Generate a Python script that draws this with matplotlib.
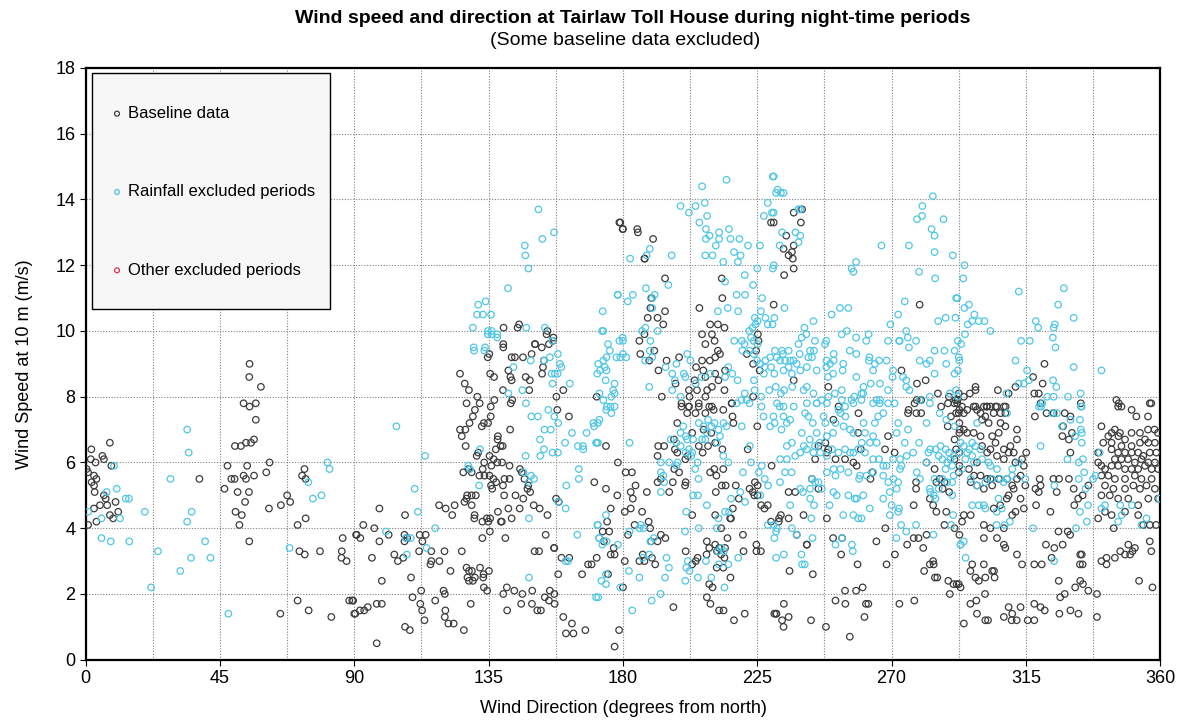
import numpy as np
import matplotlib
matplotlib.use("Agg")
import matplotlib.pyplot as plt
from matplotlib.ticker import MultipleLocator
from matplotlib.patches import Rectangle

plt.rcParams['font.family'] = ['Liberation Sans', 'DejaVu Sans']

# (direction deg, speed m/s)
baseline_0_90 = [
    (1.9, 6.4), (8.1, 6.6), (5.6, 6.2), (1.7, 6.1), (6.1, 6.1), (3.3, 6.0), (0.3, 5.8), (0.8, 5.7),
    (2.8, 5.6), (3.6, 5.5), (2.0, 5.4), (2.8, 5.3), (3.0, 5.1), (6.1, 5.0), (6.7, 4.9), (10.0, 4.8),
    (8.6, 5.9), (4.8, 4.7), (7.2, 4.7), (2.8, 4.6), (10.9, 4.5), (8.1, 4.4), (9.2, 4.3), (3.6, 4.2),
    (0.8, 4.1), (38.1, 5.5),
    (54.9, 9.0), (54.8, 8.6), (58.7, 8.3), (52.9, 7.8), (54.9, 7.7), (57.0, 7.8), (57.0, 7.3), (50.0, 6.5),
    (52.0, 6.5), (53.7, 6.6), (55.4, 6.6), (56.4, 6.7), (61.6, 6.0), (47.5, 5.9), (54.1, 5.9), (60.5, 5.7),
    (48.8, 5.5), (49.9, 5.5), (52.9, 5.6), (53.7, 5.5), (56.4, 5.6), (46.5, 5.2), (50.9, 5.1), (54.7, 5.1),
    (53.4, 4.8), (61.4, 4.6), (50.2, 4.5), (52.3, 4.4), (51.5, 4.1), (54.8, 3.6), (65.4, 4.7), (67.5, 5.0),
    (73.3, 5.8), (72.5, 5.6), (73.7, 5.5), (68.5, 4.8), (73.7, 4.3), (71.0, 4.1), (71.6, 3.3), (73.4, 3.2),
    (78.5, 3.3), (85.8, 3.3), (86.1, 3.7), (85.7, 3.1), (87.4, 3.0), (71.0, 1.8), (74.7, 1.5), (82.3, 1.3),
    (65.2, 1.4), (88.3, 1.8), (89.6, 1.8), (90.3, 1.4), (90.8, 3.8),
]

baseline_90_180 = [
    (139.9, 9.5), (150.5, 9.6), (149.4, 9.3), (142.7, 9.2), (143.8, 9.2), (146.5, 9.2), (134.7, 9.2),
    (135.2, 9.3), (154.4, 9.9), (156.5, 9.7), (153.5, 9.1), (153.2, 8.9), (152.9, 8.7), (141.6, 8.8),
    (142.3, 8.6), (142.7, 8.5), (147.4, 8.6), (148.8, 8.5), (135.5, 8.7), (136.8, 8.6), (125.4, 8.7),
    (127.0, 8.4), (128.4, 8.2), (139.8, 8.2), (148.6, 8.2), (160.0, 8.2), (131.2, 8.0), (127.6, 7.8),
    (132.0, 7.8), (136.9, 7.9), (135.7, 7.7), (142.9, 7.9), (142.4, 7.8), (157.7, 8.0), (158.0, 7.6),
    (161.9, 7.4), (130.4, 7.6), (129.7, 7.4), (128.6, 7.2), (127.2, 7.0), (125.4, 7.0), (126.0, 6.8),
    (127.3, 6.5), (132.7, 7.1), (133.4, 7.2), (135.7, 7.4), (134.8, 7.2), (142.2, 7.0), (138.1, 6.8),
    (138.0, 6.7), (139.0, 6.5), (139.7, 6.5), (137.4, 6.4), (131.0, 6.2), (131.5, 6.3), (135.3, 6.2),
    (136.7, 6.1), (137.9, 6.0), (139.5, 6.0), (133.5, 6.0), (133.0, 5.8), (126.5, 5.7), (128.2, 5.8),
    (129.3, 5.7), (135.9, 5.9), (142.0, 5.9), (145.5, 5.8), (146.1, 5.7), (131.9, 5.6), (133.6, 5.6),
    (135.3, 5.6), (136.6, 5.5), (140.3, 5.5), (142.0, 5.5), (135.8, 5.3), (137.5, 5.4), (139.8, 5.3),
    (136.2, 5.2), (147.0, 5.5), (148.3, 5.3), (148.9, 5.1), (148.0, 5.2), (127.8, 5.0), (127.6, 4.9),
    (129.3, 5.0), (130.7, 5.0), (126.9, 4.8), (129.3, 4.7), (118.4, 4.7), (120.6, 4.6), (123.6, 4.7),
    (122.8, 4.4), (140.2, 5.0), (144.0, 5.0), (146.6, 4.9), (141.6, 4.6), (145.4, 4.6), (138.1, 4.5),
    (150.1, 4.7), (152.1, 4.6), (154.7, 4.4), (157.6, 4.9), (158.5, 4.8), (98.4, 4.6), (107.0, 4.4),
    (130.3, 4.4), (130.2, 4.3), (132.9, 4.2), (134.4, 4.3), (135.5, 4.3), (134.9, 4.2), (139.1, 4.2),
    (139.4, 4.2), (142.7, 4.3), (93.0, 4.1), (96.7, 4.0), (90.6, 3.8), (92.0, 3.7), (101.5, 3.8),
    (98.4, 3.6), (106.8, 3.8), (107.7, 3.7), (111.9, 3.8), (113.9, 3.8), (112.8, 3.6), (111.7, 3.3),
    (106.8, 3.6), (132.9, 3.7), (135.4, 3.9), (140.6, 3.7), (154.1, 3.8), (95.9, 3.1), (103.4, 3.2),
    (104.6, 3.0), (106.4, 3.1), (115.8, 3.3), (115.8, 3.0), (118.5, 3.0), (120.2, 3.3), (115.5, 2.9),
    (126.0, 3.3), (122.2, 2.7), (109.0, 2.5), (99.2, 2.4), (127.6, 2.8), (128.4, 2.7), (129.4, 2.7),
    (127.9, 2.5), (130.4, 2.5), (128.4, 2.4), (129.7, 2.4), (132.1, 2.8), (133.2, 2.5), (135.1, 2.7),
    (133.3, 2.6), (150.4, 3.3), (151.9, 3.3), (156.9, 3.4), (157.0, 3.4), (159.4, 3.1), (162.0, 3.1),
    (168.3, 2.9), (166.3, 2.6), (158.3, 2.6), (112.4, 2.1), (109.5, 1.9), (117.1, 1.8), (119.9, 2.1),
    (120.3, 2.0), (133.4, 2.2), (134.5, 2.1), (139.9, 2.0), (141.1, 2.2), (143.6, 2.1), (146.3, 2.0),
    (149.6, 2.1), (145.9, 1.7), (149.5, 1.7), (151.3, 1.5), (152.5, 1.5), (153.8, 1.9), (155.2, 1.8),
    (155.5, 2.1), (157.0, 2.0), (157.1, 1.7), (160.0, 1.3), (162.9, 1.1), (160.9, 0.8), (163.4, 0.8),
    (167.4, 0.9), (89.3, 1.8), (90.0, 1.4), (91.9, 1.5), (93.3, 1.5), (94.5, 1.6), (97.5, 1.7),
    (99.2, 1.7), (112.1, 1.7), (112.7, 1.5), (113.5, 1.2), (107.0, 1.0), (108.6, 0.9), (120.5, 1.5),
    (120.3, 1.3), (121.5, 1.1), (123.3, 1.1), (126.7, 0.9), (129.0, 1.7), (141.2, 1.5), (97.5, 0.5),
    (178.8, 13.3), (179.9, 13.1), (140.0, 10.1), (145.2, 10.2), (144.7, 10.1), (154.7, 10.0),
    (156.7, 9.8), (150.6, 9.6), (152.8, 9.5), (139.9, 9.6), (155.2, 9.6), (179.1, 13.3), (171.2, 8.0),
    (174.3, 6.5), (174.3, 5.2), (170.4, 5.4), (178.1, 5.0), (175.9, 4.6), (174.7, 4.2), (173.2, 3.9),
    (175.4, 3.9), (173.6, 3.6), (176.9, 3.4), (177.2, 3.2), (175.9, 3.2), (171.2, 3.1), (169.5, 2.9),
    (175.0, 2.6), (178.3, 6.0), (178.7, 0.9), (177.2, 0.4),
]

baseline_180_270 = [
    (180.0, 13.1), (185.0, 13.0), (190.1, 12.8), (187.2, 12.2), (184.8, 13.1), (187.3, 12.2),
    (185.5, 9.7), (229.6, 13.3), (194.1, 11.6), (213.1, 11.6), (213.3, 11.0), (189.5, 11.0),
    (189.2, 10.7), (194.1, 10.6), (205.6, 10.7), (230.5, 10.8), (188.3, 10.4), (191.6, 10.4),
    (193.5, 10.2), (187.2, 9.9), (185.8, 9.3), (190.5, 9.4), (188.8, 9.1), (194.6, 9.1), (191.9, 8.8),
    (198.8, 9.2), (206.5, 9.1), (209.2, 10.2), (211.8, 10.2), (214.0, 10.1), (206.5, 9.9), (209.8, 9.9),
    (207.6, 9.6), (210.7, 9.7), (211.8, 9.4), (210.9, 9.2), (212.5, 9.3), (209.1, 9.1), (214.2, 8.8),
    (206.9, 8.8), (204.5, 8.9), (204.0, 8.5), (207.6, 8.6), (210.9, 8.7), (212.0, 8.5), (214.0, 8.2),
    (209.8, 8.3), (208.2, 8.2), (202.1, 8.2), (202.3, 8.0), (204.8, 8.2), (197.6, 8.4), (193.0, 8.0),
    (199.6, 7.7), (202.1, 7.7), (205.4, 7.8), (207.6, 8.0), (209.8, 7.7), (225.2, 9.9), (225.4, 9.7),
    (224.6, 9.4), (223.6, 9.0), (225.8, 8.8), (221.5, 9.3), (223.6, 8.0), (216.4, 7.8),
    (199.6, 7.8), (201.5, 7.5), (202.1, 7.7), (205.4, 7.7), (204.3, 7.5), (207.6, 7.5), (208.9, 7.7),
    (210.4, 7.6), (213.6, 7.6), (216.7, 7.4), (217.0, 7.2), (216.5, 7.8), (198.2, 7.2), (207.0, 7.0),
    (209.6, 6.9), (210.9, 6.6), (213.3, 6.4), (208.5, 6.5), (203.2, 6.9), (205.4, 6.5), (197.1, 6.7),
    (191.8, 6.5), (193.8, 6.5), (191.6, 6.2), (197.4, 6.4), (198.2, 6.3), (200.9, 6.1), (201.7, 6.2),
    (206.7, 6.3), (209.2, 5.7), (210.6, 5.8), (211.3, 5.6), (213.6, 5.8), (213.1, 5.3), (211.1, 5.1),
    (214.4, 5.3), (217.8, 5.3), (221.8, 6.4), (225.0, 7.1), (229.8, 5.9), (222.4, 5.2), (224.0, 5.0),
    (223.5, 5.1), (225.1, 5.3), (218.8, 4.9), (226.3, 4.7), (228.5, 4.7), (232.9, 4.4), (216.8, 4.6),
    (215.9, 4.3), (216.2, 4.3), (210.9, 4.4), (212.9, 4.0), (208.1, 3.6), (208.9, 3.4), (210.9, 3.5),
    (211.5, 3.3), (212.2, 3.4), (212.9, 3.2), (214.0, 3.1), (214.2, 3.4), (215.0, 3.7), (213.6, 2.8),
    (211.4, 2.8), (208.0, 3.2), (205.0, 3.1), (204.4, 3.0), (203.2, 2.9), (201.0, 3.3), (208.9, 2.3),
    (210.0, 2.2), (208.1, 1.9), (209.3, 1.7), (216.0, 2.5), (220.2, 3.8), (220.4, 3.3), (224.7, 3.5),
    (224.7, 3.3), (226.2, 3.3), (212.2, 1.5), (213.7, 1.5), (217.2, 1.2), (220.8, 1.4), (231.3, 1.4),
    (196.9, 1.6), (180.9, 5.7), (183.0, 5.7), (182.6, 5.1), (184.2, 5.3), (188.0, 5.1), (183.3, 4.9),
    (180.6, 4.5), (182.6, 4.6), (186.4, 4.5), (183.9, 4.1), (181.7, 3.8), (188.6, 4.2), (189.1, 4.0),
    (192.7, 3.8), (194.2, 3.7), (191.6, 3.6), (189.4, 3.6), (186.6, 3.2), (185.5, 3.0), (187.2, 3.0),
    (189.7, 3.1), (190.8, 2.9), (180.6, 3.0), (180.0, 2.2), (232.3, 4.3), (227.4, 4.6), (229.6, 4.2),
    (230.7, 1.4), (201.0, 5.4), (203.2, 4.4), (191.6, 5.4), (192.7, 5.5), (195.5, 5.1), (196.7, 5.4),
    (197.2, 5.8), (198.8, 5.7), (200.8, 5.3), (224.2, 5.4), (225.1, 5.0),
    (237.2, 13.6), (240.0, 13.7), (239.6, 13.3), (234.7, 12.9), (237.2, 12.6), (233.8, 12.5),
    (235.5, 12.3), (236.9, 12.2), (236.6, 12.4), (234.0, 11.7), (237.2, 11.9), (230.5, 13.3),
    (237.2, 8.5), (248.8, 8.3),
    (235.5, 5.1), (232.2, 4.2), (235.5, 4.3), (240.5, 4.4), (245.5, 5.2), (248.3, 4.3), (243.3, 5.5),
    (244.4, 6.1), (245.5, 6.5), (248.3, 6.3), (251.2, 6.1), (254.4, 6.1), (257.2, 6.0), (258.3, 5.9),
    (259.7, 6.4), (258.8, 6.9), (263.5, 5.7), (262.9, 5.5), (268.8, 6.8), (268.3, 2.9), (267.9, 4.0),
    (264.9, 3.6), (258.6, 2.9), (253.1, 3.2), (250.4, 3.7), (253.4, 3.7), (241.6, 3.5), (241.6, 3.5),
    (238.2, 3.8), (235.8, 2.7), (243.6, 2.6), (254.4, 2.1), (258.1, 2.1), (260.3, 2.2), (251.2, 1.8),
    (254.5, 1.7), (261.4, 1.7), (262.2, 1.7), (260.9, 1.3), (248.0, 1.0), (256.0, 0.7), (233.9, 1.7),
    (231.4, 1.4), (233.3, 1.2), (235.5, 1.3), (233.8, 1.0), (243.0, 1.2), (237.7, 5.1), (247.8, 6.6),
    (248.8, 6.4), (250.5, 7.3), (252.2, 7.7), (258.9, 7.5), (267.8, 6.4),
]

baseline_270_360 = [
    (279.4, 10.8), (273.3, 8.8), (278.5, 8.4), (281.4, 8.5), (285.5, 8.1), (289.2, 8.0), (291.4, 7.9),
    (292.5, 8.1), (278.4, 7.9), (271.0, 6.3), (275.5, 7.5), (278.3, 7.5), (279.9, 7.5), (277.7, 7.8),
    (279.9, 7.9), (286.6, 7.7), (288.9, 7.8), (291.1, 7.8), (292.7, 7.6), (291.6, 7.5), (289.9, 7.4),
    (292.7, 7.2), (288.8, 7.1), (291.1, 6.7), (292.7, 6.9), (291.6, 6.4), (292.7, 6.3), (291.1, 6.1),
    (292.7, 5.9), (281.7, 6.0), (284.4, 5.8), (285.0, 5.4), (286.1, 5.5), (287.7, 5.4), (287.1, 5.2),
    (289.3, 5.1), (282.8, 4.9), (283.9, 4.7), (285.0, 4.5), (288.3, 4.5), (287.7, 4.1), (291.1, 4.0),
    (292.7, 3.8), (281.7, 3.8), (279.0, 3.7), (277.4, 3.7), (275.2, 3.5), (280.6, 3.4), (282.8, 2.9),
    (283.9, 3.0), (284.1, 2.9), (280.9, 2.7), (284.5, 2.5), (285.3, 2.5), (289.0, 2.4), (290.7, 2.3),
    (291.8, 2.3), (289.5, 2.0), (278.2, 5.2), (277.4, 4.7), (278.2, 5.4), (271.1, 3.2), (272.6, 1.7),
    (277.6, 1.8), (275.7, 7.6), (292.1, 7.9),
    (321.2, 9.0), (317.4, 8.6), (298.1, 8.3), (298.1, 8.2), (305.6, 8.2), (309.2, 8.1), (311.5, 8.3),
    (319.3, 8.1), (317.8, 8.1), (320.6, 8.4), (296.2, 8.1), (294.2, 8.0), (345.3, 7.9), (346.1, 7.8),
    (356.5, 7.8), (319.9, 7.8), (333.4, 7.8), (301.8, 7.7), (304.8, 7.7), (308.2, 7.7), (298.1, 7.7),
    (292.0, 7.8), (293.6, 7.7), (294.2, 7.5), (292.5, 7.5), (295.3, 7.6), (297.5, 7.7), (298.6, 7.6),
    (299.8, 7.5), (300.9, 7.7), (302.0, 7.7), (303.1, 7.7), (305.3, 7.7), (307.6, 7.7), (301.4, 7.4),
    (304.2, 7.5), (306.5, 7.5), (308.1, 7.5), (300.3, 7.3), (302.5, 7.2), (306.5, 7.2), (308.1, 7.1),
    (312.0, 7.0), (292.8, 7.0), (294.2, 7.0), (295.3, 6.9), (297.5, 6.9), (299.8, 6.8), (303.7, 6.8),
    (305.9, 6.9), (304.8, 6.6), (312.0, 6.7), (309.8, 6.5), (307.6, 6.4), (309.2, 6.3), (310.9, 6.3),
    (315.1, 6.3), (303.1, 6.4), (300.3, 6.5), (302.0, 6.3), (305.3, 6.2), (307.6, 6.1), (311.5, 6.0),
    (313.7, 6.1), (314.3, 5.9), (298.6, 6.0), (292.5, 5.7), (295.9, 5.8), (297.6, 5.6), (299.8, 5.6),
    (302.0, 5.5), (303.1, 5.5), (305.9, 5.5), (308.7, 5.5), (310.4, 5.3), (312.0, 5.5), (313.2, 5.6),
    (296.5, 5.4), (298.6, 5.3), (300.9, 5.2), (303.7, 5.3), (309.2, 5.0), (310.9, 5.2), (313.2, 4.9),
    (314.8, 5.3), (308.6, 4.9), (306.4, 4.7), (304.2, 4.6), (310.4, 4.4), (311.5, 4.5), (314.3, 4.6),
    (294.2, 4.4), (296.5, 4.4), (293.6, 4.2), (300.9, 4.1), (303.1, 4.0), (307.6, 4.0), (300.9, 3.7),
    (305.3, 3.7), (307.6, 3.5), (308.1, 3.4), (312.0, 3.2), (313.7, 2.9), (304.3, 2.7), (303.7, 2.7),
    (300.9, 2.9), (298.1, 2.5), (299.2, 2.4), (301.4, 2.5), (304.5, 2.5), (297.0, 2.9), (296.4, 2.7),
    (292.5, 2.3), (293.1, 2.2), (301.3, 2.0), (296.4, 1.7), (298.4, 1.8), (298.6, 1.4), (301.4, 1.2),
    (302.3, 1.2), (294.2, 1.1), (307.6, 1.3), (309.2, 1.6), (310.4, 1.4), (310.2, 1.2), (311.9, 1.2),
    (313.2, 1.6), (315.6, 1.2), (317.8, 1.2), (317.8, 1.7), (319.9, 1.6), (321.3, 1.5), (326.2, 1.4),
    (329.9, 1.5), (332.6, 1.4), (338.8, 1.3), (318.0, 7.4), (321.9, 7.5), (328.0, 7.5), (329.9, 7.4),
    (327.2, 6.8), (329.4, 6.7), (329.9, 6.3), (330.4, 6.9), (327.4, 7.1), (324.3, 7.5), (319.6, 5.5),
    (319.9, 5.3), (318.2, 5.2), (319.3, 5.1), (324.2, 5.5), (326.1, 5.5), (325.3, 5.1), (329.4, 5.5),
    (331.0, 5.2), (332.5, 4.9), (331.2, 4.7), (334.0, 5.0), (335.9, 5.3), (323.2, 4.5), (318.4, 4.7),
    (325.9, 3.9), (329.0, 3.9), (329.8, 3.8), (321.7, 3.5), (324.5, 3.4), (327.3, 3.5), (333.2, 3.2),
    (333.7, 3.2), (333.1, 2.9), (334.0, 2.9), (323.6, 3.1), (320.3, 2.9), (317.8, 2.9), (326.0, 2.4),
    (331.5, 2.2), (333.2, 2.4), (334.1, 2.3), (335.9, 2.1), (328.0, 2.0), (326.5, 1.9), (338.8, 2.0),
    (339.2, 6.3), (339.2, 6.0), (340.3, 5.9), (340.3, 7.1), (343.7, 6.9), (344.8, 7.0), (346.5, 6.9),
    (345.9, 7.7), (347.0, 7.7), (350.4, 7.6), (352.0, 7.4), (355.9, 7.4), (357.0, 7.8), (355.9, 7.0),
    (358.1, 7.0), (359.2, 6.9), (342.6, 6.8), (346.0, 6.8), (348.2, 6.7), (350.4, 6.9), (353.2, 6.9),
    (354.9, 6.7), (340.9, 6.6), (343.7, 6.6), (347.0, 6.5), (350.4, 6.5), (353.2, 6.6), (356.0, 6.6),
    (358.2, 6.6), (343.7, 6.4), (345.9, 6.3), (348.2, 6.3), (350.4, 6.3), (352.6, 6.3), (354.3, 6.2),
    (356.5, 6.3), (358.7, 6.3), (344.8, 6.1), (347.0, 6.1), (349.2, 6.1), (351.5, 6.0), (353.7, 6.1),
    (356.0, 6.0), (358.2, 6.0), (341.5, 5.8), (343.7, 5.9), (345.9, 5.9), (348.2, 5.8), (350.4, 5.8),
    (352.6, 5.8), (354.9, 5.9), (357.1, 5.8), (359.3, 5.8), (340.3, 5.6), (342.6, 5.6), (344.8, 5.5),
    (348.2, 5.5), (351.5, 5.6), (353.7, 5.5), (357.1, 5.5), (341.5, 5.3), (344.3, 5.2), (348.2, 5.2),
    (351.0, 5.3), (353.2, 5.2), (355.4, 5.3), (358.2, 5.2), (340.3, 5.0), (343.1, 5.0), (345.9, 4.9),
    (349.3, 4.9), (352.6, 4.7), (356.0, 4.9), (359.3, 4.9), (339.2, 4.3), (341.5, 4.5), (343.7, 4.4),
    (348.2, 4.5), (352.6, 4.4), (356.5, 4.1), (358.6, 4.1), (354.3, 4.1), (356.5, 3.6), (357.0, 3.3),
    (349.3, 3.5), (346.6, 3.3), (348.2, 3.2), (349.9, 3.2), (350.7, 3.3), (351.5, 3.4), (344.4, 4.0),
    (344.8, 3.1), (340.3, 3.0), (342.0, 2.9), (342.0, 3.1), (352.9, 2.4), (357.4, 2.2),
]

rainfall_0_90 = [
    (9.5, 5.9), (7.0, 5.1), (10.4, 5.2), (13.4, 4.9), (14.5, 4.9), (0.8, 4.5), (5.3, 4.3), (11.5, 4.3),
    (19.8, 4.5), (5.3, 3.7), (8.4, 3.6), (14.6, 3.6), (21.9, 2.2), (34.0, 7.0), (34.5, 6.3), (28.4, 5.5),
    (35.5, 4.5), (34.0, 4.2), (24.2, 3.3), (40.0, 3.6), (41.8, 3.1), (35.3, 3.1), (31.7, 2.7), (47.8, 1.4),
    (81.0, 6.0), (81.7, 5.8), (74.6, 5.4), (76.1, 4.9), (79.0, 5.0), (68.3, 3.4),
]

rainfall_90_180 = [
    (134.7, 9.9), (136.0, 9.9), (137.9, 9.8), (130.1, 9.4), (133.6, 9.4), (143.3, 8.9), (141.6, 8.1),
    (147.5, 7.8), (146.3, 8.2), (149.1, 9.1), (153.5, 9.1), (155.5, 9.2), (158.2, 9.3), (158.9, 9.0),
    (159.4, 8.9), (156.1, 8.7), (157.2, 8.7), (158.1, 8.7), (156.4, 8.4), (162.2, 8.4), (155.0, 7.6),
    (157.0, 7.4), (158.3, 7.2), (149.3, 7.4), (151.5, 7.4), (153.7, 7.0), (155.8, 7.0), (152.2, 6.7),
    (153.5, 6.4), (152.3, 6.2), (156.4, 6.3), (158.2, 6.3), (160.6, 6.6), (162.9, 6.9), (164.9, 6.5),
    (166.6, 6.5), (166.7, 6.4), (167.8, 6.9), (171.6, 6.6), (171.6, 7.2), (170.3, 7.1), (165.2, 5.8),
    (165.2, 5.5), (161.0, 5.3), (158.3, 4.8), (160.8, 4.6), (148.5, 4.3), (147.4, 6.2), (146.7, 5.7),
    (149.2, 5.6), (150.2, 5.5), (148.5, 5.4), (128.2, 5.9), (128.7, 5.8), (132.1, 6.4), (131.8, 5.3),
    (104.1, 7.1), (113.7, 6.2), (110.2, 5.2), (111.3, 4.5), (117.1, 4.0), (100.6, 3.9), (107.3, 3.7),
    (108.9, 3.7), (114.2, 3.4), (107.6, 3.2), (148.5, 2.5), (161.6, 3.0), (160.8, 3.0), (164.7, 3.8),
    (171.6, 4.1), (171.0, 1.9), (172.1, 3.7),
    (151.7, 13.7), (156.9, 13.0), (153.0, 12.8), (147.1, 12.6), (147.3, 12.3), (148.3, 11.9),
    (141.5, 11.3), (131.5, 10.8), (134.0, 10.9), (131.1, 10.5), (133.1, 10.5), (135.8, 10.5),
    (129.7, 10.1), (134.8, 10.0), (136.0, 10.0), (137.9, 9.9), (147.6, 10.1), (153.8, 10.1),
    (156.4, 9.7), (173.2, 10.6), (173.0, 10.0), (178.2, 11.1), (178.8, 9.7), (179.9, 9.8),
    (130.0, 9.5), (133.8, 9.5), (178.3, 11.1), (173.4, 10.0), (175.0, 9.6), (175.6, 9.4), (174.5, 9.2),
    (173.4, 9.1), (179.1, 9.2), (177.8, 9.2), (171.7, 9.0), (173.9, 8.9), (171.4, 8.7), (172.3, 8.8),
    (174.5, 8.8), (174.2, 8.5), (177.2, 8.4), (176.7, 8.2), (177.2, 8.1), (172.1, 8.1), (173.4, 7.9),
    (175.8, 7.7), (176.1, 8.0), (174.6, 7.7), (177.2, 7.7), (176.1, 7.5), (174.4, 7.6), (170.1, 7.2),
    (172.1, 7.3), (171.2, 6.6), (171.0, 6.6), (174.3, 2.6), (172.8, 2.4), (174.3, 2.3), (179.1, 2.2),
    (171.7, 1.9), (171.4, 4.1), (174.3, 4.4), (172.0, 3.7), (173.1, 3.5), (174.5, 3.6), (178.3, 3.5),
]

rainfall_180_270 = [
    (214.7, 14.6), (230.2, 14.7), (206.5, 14.4), (231.3, 14.2), (228.5, 13.9), (199.3, 13.8),
    (204.3, 13.8), (207.4, 13.9), (202.1, 13.6), (205.6, 13.3), (208.2, 13.5), (207.8, 13.1),
    (212.2, 13.0), (215.5, 13.1), (212.2, 12.8), (209.0, 12.9), (207.8, 12.8), (216.0, 12.8),
    (219.0, 12.8), (217.2, 12.4), (219.4, 12.3), (218.5, 12.1), (211.1, 12.6), (210.0, 12.3),
    (207.6, 12.3), (213.6, 12.1), (221.9, 12.6), (225.9, 12.6), (227.2, 13.5), (229.9, 13.6),
    (196.3, 12.3), (182.4, 12.2), (187.9, 12.3), (189.0, 12.5), (230.2, 11.9), (225.0, 11.9),
    (220.8, 11.7), (223.6, 11.4), (214.2, 11.5), (195.2, 11.4), (187.7, 11.3), (183.3, 11.1),
    (181.6, 10.9), (190.6, 11.1), (189.8, 11.0), (218.1, 11.1), (220.9, 11.1), (226.6, 11.0),
    (215.1, 10.7), (211.8, 10.6), (218.6, 10.6), (189.8, 10.7), (187.5, 10.1), (186.4, 10.0),
    (189.2, 9.7), (191.6, 10.0), (180.0, 9.7), (189.8, 9.2), (189.0, 9.4), (187.4, 9.1), (180.0, 9.3),
    (181.1, 9.2), (188.8, 8.3), (197.4, 8.5), (197.9, 9.0), (201.5, 9.3), (202.6, 9.1), (194.3, 8.9),
    (196.5, 8.7), (200.4, 8.7), (200.9, 8.6), (196.5, 8.2), (199.3, 8.0), (204.3, 8.4), (206.3, 8.6),
    (209.2, 8.7), (214.2, 8.6), (215.3, 8.9), (216.6, 8.7), (217.3, 9.7), (219.8, 9.7), (220.0, 9.4),
    (218.4, 8.5), (220.7, 9.6), (222.9, 9.8), (222.3, 10.0), (223.4, 10.1), (224.4, 10.2),
    (225.1, 10.3), (224.2, 10.4), (226.2, 10.6), (227.7, 10.4), (228.5, 10.2), (230.1, 10.2),
    (230.7, 10.4), (223.8, 9.7), (225.1, 9.6), (222.5, 9.4), (223.8, 9.3), (224.9, 9.1), (226.0, 9.0),
    (227.7, 9.1), (229.3, 9.2), (230.9, 9.4), (227.4, 8.9), (229.6, 8.9), (230.7, 8.7), (223.9, 8.5),
    (227.2, 8.7), (224.1, 8.2), (229.0, 8.2), (226.3, 8.0), (220.8, 8.1), (221.4, 7.9), (219.7, 7.9),
    (218.1, 7.8), (196.0, 6.7), (197.9, 6.6), (199.3, 6.9), (200.2, 7.1), (201.0, 6.8), (199.3, 6.5),
    (201.5, 6.7), (203.5, 6.7), (202.1, 6.4), (201.0, 6.3), (203.2, 6.3), (202.9, 6.2), (205.4, 7.2),
    (207.0, 7.1), (208.5, 7.3), (209.6, 7.1), (208.1, 6.9), (207.6, 6.7), (206.5, 6.7), (210.7, 7.2),
    (212.0, 7.0), (213.7, 7.2), (214.7, 7.1), (212.5, 6.8), (211.5, 6.6), (213.6, 6.2), (215.3, 6.0),
    (205.0, 6.0), (204.2, 5.8), (205.3, 5.5), (197.9, 5.9), (195.5, 6.0), (193.5, 5.6), (192.7, 5.1),
    (203.5, 5.0), (205.1, 5.0), (208.1, 4.7), (201.2, 4.5), (205.4, 4.0), (216.2, 4.9), (214.2, 4.5),
    (215.5, 4.5), (212.0, 4.3), (211.4, 4.0), (220.2, 5.7), (222.9, 6.0), (225.5, 5.7), (226.5, 5.9),
    (227.5, 5.5), (228.6, 5.3), (226.0, 5.0), (219.3, 5.1), (220.9, 4.8), (222.5, 6.5), (227.1, 7.4),
    (229.3, 7.1), (230.4, 7.4), (219.8, 7.1), (222.4, 7.8), (226.4, 7.7), (232.5, 7.7), (228.5, 4.1),
    (231.3, 3.9), (230.7, 3.7), (218.6, 3.1), (215.3, 2.9), (212.9, 3.4), (211.8, 3.3), (213.8, 3.3),
    (212.1, 2.9), (209.6, 2.5), (214.0, 2.2), (207.8, 3.0), (201.7, 3.0), (201.2, 2.8), (202.3, 2.7),
    (200.9, 2.4), (205.1, 2.5), (200.8, 3.9), (194.6, 3.1), (195.4, 2.8), (194.1, 2.5), (185.5, 2.5),
    (182.0, 2.7), (192.6, 2.0), (189.6, 1.8), (183.1, 1.5), (186.0, 4.1), (186.6, 3.1), (188.8, 3.2),
    (189.2, 3.6), (190.3, 3.7), (182.2, 3.9), (185.5, 4.0), (186.9, 4.0), (192.7, 5.7), (193.8, 5.4),
    (198.3, 6.0), (192.7, 6.0), (182.2, 6.6), (231.3, 3.1),
    (230.5, 14.7), (231.8, 14.3), (232.9, 14.2), (233.8, 14.2), (238.8, 13.7), (239.4, 13.7),
    (230.5, 13.6), (233.3, 13.0), (237.8, 13.0), (239.4, 12.9), (232.5, 12.6), (238.8, 12.7),
    (230.5, 12.0), (234.1, 10.7), (243.8, 10.3), (249.9, 10.5), (252.7, 10.7), (255.5, 10.7),
    (256.6, 11.9), (258.1, 12.1), (257.2, 11.8), (266.6, 12.6), (272.2, 10.5), (269.6, 10.2),
    (268.8, 9.7), (240.8, 10.1), (241.4, 9.9), (239.9, 9.8), (244.3, 9.7), (244.0, 9.4), (248.1, 9.7),
    (247.7, 9.6), (242.7, 9.4), (242.1, 9.2), (243.3, 9.2), (238.8, 9.6), (239.2, 9.3), (235.5, 9.4),
    (233.3, 9.4), (233.6, 9.3), (231.5, 9.2), (232.6, 9.1), (234.3, 9.1), (236.0, 9.1), (237.1, 9.1),
    (238.2, 9.0), (235.5, 8.9), (233.8, 8.8), (236.6, 8.7), (239.4, 8.8), (241.6, 8.9), (244.9, 8.8),
    (248.2, 9.1), (250.6, 9.3), (250.6, 9.1), (249.4, 9.0), (248.1, 8.9), (253.3, 9.9), (255.0, 10.0),
    (258.1, 9.8), (262.3, 9.9), (261.5, 9.7), (256.0, 9.4), (258.2, 9.3), (253.8, 9.0), (253.6, 8.8),
    (250.4, 8.7), (248.7, 8.6), (258.2, 8.6), (262.6, 9.2), (262.4, 9.1), (265.8, 9.1), (264.4, 9.0),
    (263.8, 8.8), (268.3, 9.1), (260.6, 8.3), (263.0, 8.4), (266.1, 8.4), (259.9, 8.1), (257.5, 8.0),
    (253.3, 8.2), (251.0, 8.1), (248.8, 8.0), (243.8, 8.1), (240.5, 8.2), (241.6, 8.3), (236.7, 8.3),
    (234.0, 8.2), (231.2, 8.3), (232.9, 8.1), (244.9, 7.8), (246.6, 7.9), (253.3, 7.9), (256.6, 7.9),
    (260.5, 8.1), (265.0, 7.9), (266.1, 7.9), (268.8, 8.2),
    (231.6, 7.8), (233.8, 7.7), (237.2, 7.7), (241.6, 7.8), (244.9, 7.8), (248.3, 7.8), (252.2, 7.6),
    (254.4, 7.7), (257.2, 7.8), (259.9, 7.9), (263.8, 7.8), (266.0, 7.8), (268.8, 7.8), (233.8, 7.4),
    (234.9, 7.2), (236.0, 7.3), (233.1, 7.0), (230.8, 7.2), (241.0, 7.5), (242.1, 7.4), (243.6, 7.2),
    (239.9, 6.9), (247.2, 7.4), (247.8, 7.2), (251.2, 7.2), (250.4, 6.9), (248.3, 6.8), (252.9, 7.5),
    (254.5, 7.4), (253.9, 7.1), (256.1, 7.0), (257.2, 6.9), (260.6, 7.2), (264.4, 7.2), (265.5, 7.4),
    (267.2, 7.5), (260.0, 6.6), (262.7, 6.6), (265.0, 6.6), (261.1, 6.9), (263.8, 6.8), (263.8, 6.1),
    (261.1, 6.3), (258.8, 6.4), (257.2, 6.3), (256.1, 6.3), (254.4, 6.4), (252.2, 6.3), (250.0, 6.4),
    (248.3, 6.2), (246.1, 6.3), (243.8, 6.3), (241.6, 6.4), (239.4, 6.3), (237.7, 6.2), (234.9, 6.1),
    (232.7, 6.1), (234.9, 6.5), (236.6, 6.6), (240.6, 6.5), (242.6, 6.7), (244.3, 6.5), (245.9, 6.6),
    (244.9, 6.9), (248.3, 5.7), (250.6, 5.8), (251.2, 5.6), (252.9, 5.8), (255.5, 5.7), (259.4, 5.6),
    (259.1, 5.5), (261.6, 5.6), (263.8, 5.7), (267.2, 5.6), (268.9, 5.4), (267.2, 4.9), (262.7, 4.6),
    (260.5, 5.0), (258.3, 4.9), (257.7, 4.9), (255.5, 5.0), (253.8, 4.4), (258.8, 4.3), (259.9, 4.3),
    (257.2, 4.4), (250.5, 5.1), (251.6, 5.0), (249.2, 4.7), (244.4, 5.4), (243.3, 5.5), (242.7, 5.2),
    (245.5, 5.4), (246.6, 5.2), (244.0, 4.7), (242.7, 4.9), (243.1, 4.3), (239.4, 5.2), (240.3, 5.1),
    (236.0, 4.7), (232.6, 5.4), (234.3, 5.7), (236.5, 5.7), (231.6, 4.0), (230.5, 4.1), (236.6, 4.0),
    (238.2, 3.8), (243.5, 3.7), (239.8, 3.2), (240.0, 2.9), (240.9, 2.9), (233.9, 3.2), (251.2, 3.5),
    (253.4, 3.7), (256.7, 3.5), (257.0, 3.3), (268.3, 5.9), (267.2, 5.9), (265.8, 6.1), (269.4, 5.1),
    (269.4, 4.4),
]

rainfall_270_360 = [
    (275.8, 12.6), (280.3, 13.8), (283.8, 14.1), (278.5, 13.4), (280.2, 13.5), (283.4, 13.1),
    (284.4, 12.9), (287.4, 13.4), (284.4, 12.4), (290.5, 12.3), (279.2, 11.8), (284.6, 11.6),
    (291.6, 11.0), (274.4, 10.9), (285.6, 10.3), (288.1, 10.4), (291.4, 10.4), (274.9, 10.0),
    (275.4, 9.8), (278.2, 9.7), (275.8, 9.5), (272.7, 9.7), (292.2, 9.7), (270.5, 8.8), (272.5, 9.7),
    (279.4, 9.1), (281.7, 9.0), (282.8, 9.1), (284.4, 9.4), (287.7, 9.4), (291.1, 9.4), (288.3, 9.0),
    (284.4, 8.7), (291.1, 8.7), (292.2, 8.8), (292.7, 9.1), (270.3, 8.6), (273.8, 8.6), (274.9, 8.5),
    (276.0, 8.2), (274.9, 8.3), (279.4, 7.9), (282.8, 8.0), (289.5, 8.1), (291.6, 8.2), (292.2, 8.0),
    (271.0, 7.8), (272.2, 7.2), (275.5, 7.0), (271.7, 6.9), (274.4, 6.6), (279.2, 6.6), (281.7, 7.2),
    (282.8, 7.8), (286.1, 7.5), (288.3, 7.3), (291.1, 7.1), (284.7, 6.4), (286.4, 6.5), (288.1, 6.4),
    (289.2, 6.3), (290.8, 6.2), (285.8, 6.2), (287.0, 6.1), (288.6, 6.0), (289.7, 6.1), (290.3, 5.9),
    (288.1, 5.8), (290.8, 5.6), (287.0, 5.5), (288.6, 5.4), (290.3, 5.4), (285.8, 5.2), (284.1, 5.0),
    (284.7, 4.9), (283.0, 5.1), (290.3, 5.0), (290.6, 4.4), (293.1, 3.5), (281.7, 6.0), (282.8, 5.2),
    (284.4, 5.5), (279.5, 5.5), (278.4, 5.7), (282.3, 6.3), (282.9, 6.4), (277.2, 6.3), (275.0, 6.2),
    (272.8, 6.1), (273.3, 5.9), (272.8, 5.8), (270.5, 6.1), (270.6, 5.5), (272.2, 5.4), (271.7, 5.2),
    (270.0, 4.7), (272.5, 4.6), (272.2, 4.5), (271.6, 3.7), (273.2, 4.1), (274.9, 3.9), (278.2, 4.1),
    (284.0, 3.8), (289.9, 4.1),
    (294.4, 12.0), (294.0, 11.6), (292.0, 11.0), (295.9, 10.8), (294.4, 10.7), (297.7, 10.5),
    (295.5, 10.2), (297.0, 10.3), (299.2, 10.3), (301.1, 10.3), (303.1, 10.0), (294.6, 9.9),
    (293.3, 9.6), (292.5, 9.2), (312.6, 11.2), (327.7, 11.3), (325.8, 10.8), (331.0, 10.4),
    (318.3, 10.3), (319.1, 10.1), (324.7, 10.2), (324.3, 10.1), (324.0, 9.8), (324.9, 9.5),
    (313.4, 9.7), (316.3, 9.7), (311.5, 9.1), (315.4, 8.8), (331.0, 8.9), (340.3, 8.8), (312.6, 8.4),
    (314.3, 8.4), (316.0, 8.5), (324.1, 8.5), (325.2, 8.3), (308.5, 8.1), (322.1, 8.0), (324.3, 8.0),
    (329.1, 8.0), (333.3, 8.1), (320.1, 7.7), (333.4, 7.7),
    (308.7, 7.5), (298.6, 7.2), (293.1, 6.6), (294.2, 6.5), (296.0, 6.4), (297.0, 6.6), (298.1, 6.5),
    (299.8, 6.4), (292.5, 6.3), (295.3, 6.3), (297.0, 6.2), (294.7, 6.1), (297.6, 6.0), (300.3, 6.1),
    (302.5, 6.0), (303.1, 5.9), (305.3, 5.8), (293.6, 5.8), (296.5, 5.5), (298.6, 5.3), (301.4, 5.4),
    (303.6, 5.5), (306.4, 5.5), (307.5, 5.4), (308.7, 5.5), (310.4, 5.8), (312.7, 6.0), (314.8, 5.5),
    (310.4, 5.6), (297.0, 4.7), (299.2, 4.7), (300.9, 4.7), (301.4, 4.6), (305.8, 4.9), (306.9, 4.6),
    (305.2, 4.5), (305.2, 4.1), (307.9, 4.1), (309.6, 4.2), (294.2, 3.6), (293.1, 3.5), (294.8, 3.1),
    (317.4, 4.0), (324.4, 3.0), (319.9, 6.5), (319.4, 7.7), (320.5, 7.8), (323.8, 7.5), (325.4, 7.5),
    (327.1, 7.1), (329.9, 7.3), (331.5, 6.8), (333.4, 7.0), (333.7, 7.7), (333.7, 6.9), (333.1, 7.3),
    (333.7, 6.6), (328.9, 6.1), (332.7, 6.0), (334.1, 6.1), (334.5, 5.7), (332.7, 5.5), (335.0, 5.2),
    (324.5, 5.3), (333.1, 4.5), (335.8, 4.7), (335.4, 4.2), (331.8, 4.0), (338.3, 5.6), (340.3, 4.6),
    (341.5, 4.7), (346.6, 4.7), (350.5, 4.7), (347.1, 4.4), (345.9, 4.2), (353.7, 4.1), (355.4, 4.3),
    (359.7, 4.9), (339.7, 6.3), (337.5, 5.5),
]

other_excluded = []  # no points in this period

baseline = np.array(baseline_0_90 + baseline_90_180 + baseline_180_270 + baseline_270_360)
rainfall = np.array(rainfall_0_90 + rainfall_90_180 + rainfall_180_270 + rainfall_270_360)

fig = plt.figure(figsize=(11.9, 7.21), dpi=100)
ax = fig.add_axes([0.072, 0.085, 0.903, 0.8207])

ax.scatter(baseline[:, 0], baseline[:, 1], s=22, facecolors='none', edgecolors='#3c3c3c',
           linewidths=0.9, label='Baseline data', zorder=3)
ax.scatter(rainfall[:, 0], rainfall[:, 1], s=22, facecolors='none', edgecolors='#4fc6e6',
           linewidths=0.9, label='Rainfall excluded periods', zorder=3)
ax.scatter([p[0] for p in other_excluded], [p[1] for p in other_excluded], s=22,
           facecolors='none', edgecolors='#e0304a', linewidths=0.9,
           label='Other excluded periods', zorder=3)

ax.set_xlim(0, 360)
ax.set_ylim(0, 18)
ax.xaxis.set_major_locator(MultipleLocator(45))
ax.xaxis.set_minor_locator(MultipleLocator(22.5))
ax.yaxis.set_major_locator(MultipleLocator(2))
ax.grid(True, which='major', color='#808080', linestyle=(0, (1, 1.5)), linewidth=0.8)
ax.grid(True, which='minor', axis='x', color='#808080', linestyle=(0, (1, 1.5)), linewidth=0.8)
ax.set_axisbelow(True)
ax.tick_params(axis='both', which='major', labelsize=13, direction='out', length=4,
               width=0.8, top=False, right=False)
ax.tick_params(axis='x', which='minor', length=0)
for sp in ax.spines.values():
    sp.set_linewidth(1.6)
    sp.set_color('black')

ax.set_xlabel('Wind Direction (degrees from north)', fontsize=13, labelpad=9)
ax.set_ylabel('Wind Speed at 10 m (m/s)', fontsize=13, labelpad=16)

fig.text(0.532, 0.975, 'Wind speed and direction at Tairlaw Toll House during night-time periods',
         ha='center', va='center', fontsize=14, fontweight='bold')
fig.text(0.525, 0.944, '(Some baseline data excluded)', ha='center', va='center', fontsize=14)

# legend box drawn separately so the entries can sit with Excel-like padding
ax.add_patch(Rectangle((0.0061, 0.5927), 0.2213, 0.3983, transform=ax.transAxes,
                       facecolor='#f7f7f7', edgecolor='black', linewidth=1.0, zorder=4))
leg = ax.legend(loc='upper left', bbox_to_anchor=(0.0245, 0.9357), borderaxespad=0,
                borderpad=0, fontsize=12, labelspacing=3.8, handlelength=0.6,
                handletextpad=0.35, markerscale=0.75, frameon=False, scatterpoints=1)
leg.set_zorder(5)

fig.savefig('out.png', dpi=100)
